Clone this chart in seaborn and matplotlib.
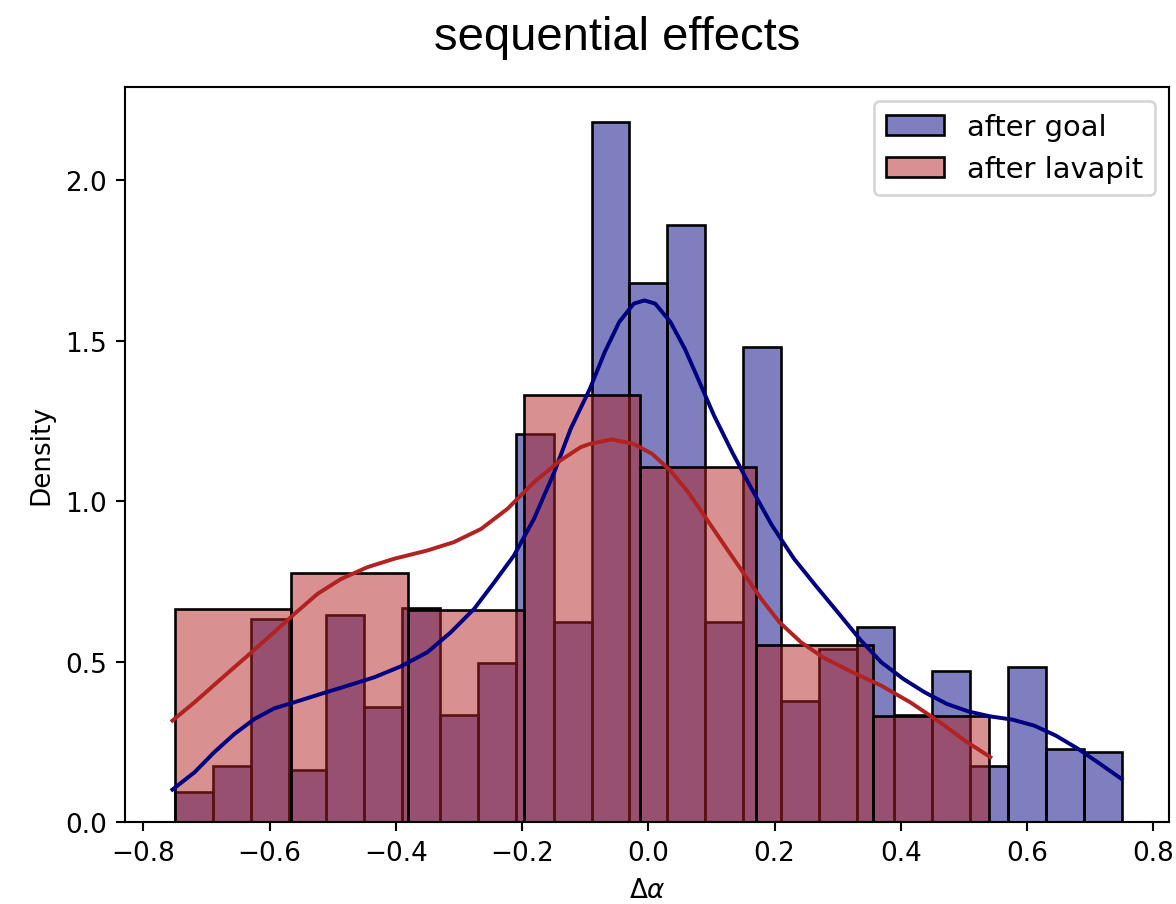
import numpy as np
import pandas as pd
import matplotlib
matplotlib.use("Agg")
import matplotlib.pyplot as plt
import seaborn as sns

# ---- data ----
goal_label = "after goal"
lava_label = "after lavapit"

goal_range = (-0.75, 0.75)
goal_nbins = 25
goal_density = [0.093, 0.174, 0.633, 0.162, 0.645, 0.359, 0.668, 0.334, 0.495,
                1.209, 0.622, 2.181, 1.680, 1.859, 0.622, 1.481, 0.378, 0.539,
                0.607, 0.334, 0.470, 0.173, 0.482, 0.228, 0.217]

lava_range = (-0.75, 0.54)
lava_nbins = 7
lava_density = [0.664, 0.775, 0.662, 1.329, 1.105, 0.552, 0.330]

goal_kde_x = [-0.754, -0.719, -0.688, -0.656, -0.624, -0.593, -0.561, -0.519,
              -0.476, -0.434, -0.392, -0.350, -0.313, -0.276, -0.244, -0.213,
              -0.181, -0.149, -0.123, -0.0925, -0.069, -0.046, -0.023, -0.006,
              0.011, 0.035, 0.058, 0.081, 0.104, 0.133, 0.161, 0.196, 0.231,
              0.265, 0.300, 0.335, 0.369, 0.404, 0.438, 0.473, 0.508, 0.542,
              0.577, 0.612, 0.646, 0.681, 0.716, 0.750]
goal_kde_y = [0.101, 0.155, 0.217, 0.274, 0.321, 0.354, 0.373, 0.399,
              0.425, 0.451, 0.485, 0.529, 0.591, 0.664, 0.747, 0.830,
              0.945, 1.090, 1.225, 1.350, 1.464, 1.558, 1.615, 1.625,
              1.615, 1.558, 1.474, 1.371, 1.267, 1.152, 1.048, 0.924, 0.820,
              0.737, 0.654, 0.570, 0.498, 0.446, 0.404, 0.368, 0.344, 0.329,
              0.319, 0.300, 0.269, 0.228, 0.181, 0.134]

lava_kde_x = [-0.754, -0.719, -0.677, -0.635, -0.593, -0.561, -0.524, -0.487,
              -0.445, -0.403, -0.350, -0.308, -0.265, -0.223, -0.181, -0.139,
              -0.107, -0.0925, -0.058, -0.023, 0.006, 0.035, 0.063, 0.092,
              0.121, 0.150, 0.179, 0.208, 0.242, 0.277, 0.323, 0.369, 0.415,
              0.462, 0.502, 0.542]
lava_kde_y = [0.316, 0.373, 0.446, 0.518, 0.591, 0.648, 0.711, 0.757,
              0.794, 0.820, 0.846, 0.872, 0.913, 0.976, 1.059, 1.127,
              1.168, 1.178, 1.192, 1.178, 1.147, 1.095, 1.028, 0.945,
              0.861, 0.778, 0.695, 0.622, 0.560, 0.513, 0.467, 0.425, 0.373,
              0.311, 0.253, 0.202]

title = "sequential effects"

# ---- figure ----
DPI = 189
fig = plt.figure(figsize=(1176 / DPI, 905 / DPI), dpi=DPI)
ax = fig.add_axes([0.1063, 0.0906, 0.8878, 0.8122])

goal_edges = np.linspace(goal_range[0], goal_range[1], goal_nbins + 1)
lava_edges = np.linspace(lava_range[0], lava_range[1], lava_nbins + 1)

goal_df = pd.DataFrame({"x": (goal_edges[:-1] + goal_edges[1:]) / 2,
                        "w": goal_density})
lava_df = pd.DataFrame({"x": (lava_edges[:-1] + lava_edges[1:]) / 2,
                        "w": lava_density})

sns.histplot(data=goal_df, x="x", weights="w", bins=goal_nbins,
             binrange=goal_range, stat="count",
             color="navy", alpha=0.5, label=goal_label, ax=ax)
sns.lineplot(x=goal_kde_x, y=goal_kde_y, color="navy", linewidth=1.5, ax=ax)

sns.histplot(data=lava_df, x="x", weights="w", bins=lava_nbins,
             binrange=lava_range, stat="count",
             color="firebrick", alpha=0.5, label=lava_label, ax=ax)
sns.lineplot(x=lava_kde_x, y=lava_kde_y, color="firebrick", linewidth=1.5, ax=ax)

ax.set_ylabel("Density")
ax.set_xlabel(r"$\Delta\alpha$")
ax.legend(loc="upper right", fontsize=11)

fig.text(0.525, 1 - 50 / 905, title, ha="center", va="baseline",
         fontsize=18, family=["Liberation Sans", "DejaVu Sans"])

fig.savefig("out.png", dpi=DPI)
